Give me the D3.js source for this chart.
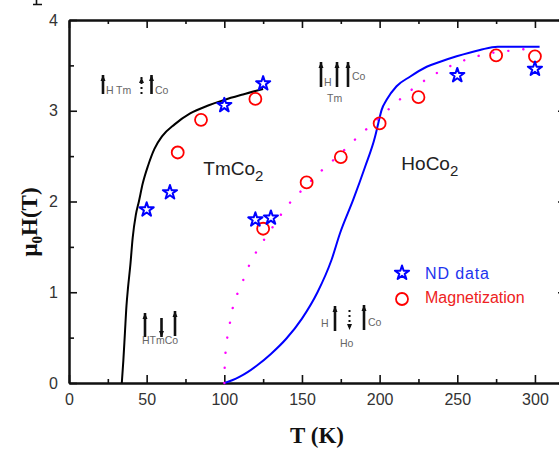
<!DOCTYPE html>
<html>
<head>
<meta charset="utf-8">
<script src="https://cdn.jsdelivr.net/npm/d3@7"></script>
<style>
  html, body { margin: 0; padding: 0; background: #fff; }
  svg { display: block; }
</style>
</head>
<body>
<svg id="chart" width="559" height="452"></svg>
<script>
// Critical field vs temperature for TmCo2 and HoCo2

// TmCo2 calculated boundary (T in K, field in T)
const tmCurveT = [34, 35, 36, 37, 38, 39.5, 41, 43, 45, 47.5, 51, 55, 60, 68, 78, 90, 100, 112, 125];
const tmCurveH = [0, 0.25, 0.55, 0.85, 1.05, 1.3, 1.6, 1.85, 2.0, 2.2, 2.4, 2.58, 2.72, 2.85, 2.97, 3.06, 3.12, 3.18, 3.24];

// HoCo2 calculated boundary
const hoCurveT = [100, 105, 110, 115, 120.8, 130, 140, 150, 160, 169, 174.5, 183, 190.6, 197, 199.1, 201.3, 204.5, 210.9, 219.5, 230.3, 239, 249.6, 264.6, 276, 303];
const hoCurveH = [0, 0.03, 0.07, 0.12, 0.19, 0.32, 0.49, 0.71, 1.0, 1.355, 1.65, 2.02, 2.38, 2.71, 2.86, 3.01, 3.12, 3.27, 3.375, 3.485, 3.54, 3.6, 3.67, 3.706, 3.706];

// HoCo2 dotted guide through magnetization data
const guideT = [100, 100.3, 101.2, 103, 106, 110, 117.6, 123, 132, 140, 148, 162, 175, 184, 195, 206.7, 222, 240.5, 258.6, 270, 288.6, 300];
const guideH = [0, 0.2, 0.4, 0.6, 0.87, 1.04, 1.355, 1.51, 1.74, 1.94, 2.09, 2.33, 2.53, 2.68, 2.85, 3.03, 3.25, 3.45, 3.58, 3.63, 3.67, 3.69];

// Neutron diffraction points
const ndT = [50, 65, 100, 125, 120, 130, 250, 300];
const ndH = [1.91, 2.1, 3.06, 3.3, 1.8, 1.82, 3.39, 3.46];

// Magnetization points
const magT = [70, 85, 120, 125, 153, 175, 200, 225, 275, 300];
const magH = [2.54, 2.9, 3.13, 1.7, 2.21, 2.49, 2.86, 3.15, 3.61, 3.6];

const xMajor = [0, 50, 100, 150, 200, 250, 300];
const xMinor = [25, 75, 125, 175, 225, 275];
const yMajor = [0, 1, 2, 3, 4];
const yMinor = [0.5, 1.5, 2.5, 3.5];

const svg = d3.select("#chart");
const x = d3.scaleLinear().domain([0, 320]).range([69, 566]);
const y = d3.scaleLinear().domain([0, 4]).range([383, 20]);

const sans = "Arial, 'Liberation Sans', sans-serif";
const serif = "'Times New Roman', 'Liberation Serif', serif";

// ---- axes (ticks point inward on all four sides) ----
function styleAxis(g) {
  g.selectAll(".domain").attr("stroke", "#111").attr("stroke-width", 2);
  g.selectAll(".tick line").attr("stroke", "#111").attr("stroke-width", 1.6);
  g.selectAll(".tick text").attr("fill", "#333").style("font-family", sans).style("font-size", "16px");
}

svg.append("g").attr("transform", `translate(0,${y(0)})`)
  .call(d3.axisBottom(x).tickValues(xMajor).tickFormat(d3.format("d")).tickSizeInner(-8).tickSizeOuter(0).tickPadding(11))
  .call(styleAxis);
svg.append("g").attr("transform", `translate(0,${y(0)})`)
  .call(d3.axisBottom(x).tickValues(xMinor).tickFormat("").tickSizeInner(-4).tickSizeOuter(0))
  .call(styleAxis);
svg.append("g").attr("transform", `translate(0,${y(4)})`)
  .call(d3.axisTop(x).tickValues(xMajor).tickFormat("").tickSizeInner(-8).tickSizeOuter(0))
  .call(styleAxis);
svg.append("g").attr("transform", `translate(0,${y(4)})`)
  .call(d3.axisTop(x).tickValues(xMinor).tickFormat("").tickSizeInner(-4).tickSizeOuter(0))
  .call(styleAxis);
svg.append("g").attr("transform", `translate(${x(0)},0)`)
  .call(d3.axisLeft(y).tickValues(yMajor).tickFormat(d3.format("d")).tickSizeInner(-8).tickSizeOuter(0).tickPadding(11))
  .call(styleAxis);
svg.append("g").attr("transform", `translate(${x(0)},0)`)
  .call(d3.axisLeft(y).tickValues(yMinor).tickFormat("").tickSizeInner(-5).tickSizeOuter(0))
  .call(styleAxis);
svg.append("g").attr("transform", `translate(${x(320)},0)`)
  .call(d3.axisRight(y).tickValues(yMajor).tickFormat("").tickSizeInner(-8).tickSizeOuter(0))
  .call(styleAxis);

// ---- axis titles ----
svg.append("text").attr("x", 317).attr("y", 443).attr("text-anchor", "middle")
  .style("font-family", serif).style("font-size", "23px").style("font-weight", "bold")
  .attr("fill", "#111").text("T (K)");

const yt = svg.append("text").attr("transform", "translate(37,222) rotate(-90)")
  .attr("text-anchor", "middle")
  .style("font-family", serif).style("font-size", "23px").style("font-weight", "bold").attr("fill", "#111");
yt.append("tspan").text("\u03BC");
yt.append("tspan").attr("dy", 5).style("font-size", "15px").text("0");
yt.append("tspan").attr("dy", -5).text("H(T)");

// stem-and-foot fragment at the top-left edge
svg.append("path").attr("d", "M36.5,0 V4 M33,4.5 H42").attr("stroke", "#111").attr("stroke-width", 1.6).attr("fill", "none");

// ---- curves ----
const line = d3.line().x(d => x(d[0])).y(d => y(d[1])).curve(d3.curveMonotoneX);

svg.append("path").datum(d3.zip(tmCurveT, tmCurveH))
  .attr("d", line).attr("fill", "none").attr("stroke", "#000").attr("stroke-width", 2);

svg.append("path").datum(d3.zip(hoCurveT, hoCurveH))
  .attr("d", line).attr("fill", "none").attr("stroke", "#0000ff").attr("stroke-width", 2);

svg.append("path").datum(d3.zip(guideT, guideH))
  .attr("d", line).attr("fill", "none").attr("stroke", "#ff00ff").attr("stroke-width", 2.4)
  .attr("stroke-linecap", "round").attr("stroke-dasharray", "0.1,15");

// ---- markers ----
const star = d3.symbol().type(d3.symbolStar).size(62);
function drawStar(g, px, py) {
  g.append("path").attr("d", star).attr("transform", `translate(${px},${py})`)
    .attr("fill", "none").attr("stroke", "#0000ff").attr("stroke-width", 2).attr("stroke-linejoin", "round");
}
function drawCircle(g, px, py) {
  g.append("circle").attr("cx", px).attr("cy", py).attr("r", 6)
    .attr("fill", "none").attr("stroke", "#ff0000").attr("stroke-width", 1.8);
}

const marks = svg.append("g");
d3.zip(magT, magH).forEach(d => drawCircle(marks, x(d[0]), y(d[1])));
d3.zip(ndT, ndH).forEach(d => drawStar(marks, x(d[0]), y(d[1])));

// ---- legend ----
drawStar(svg, 402, 273);
drawCircle(svg, 402, 299);
svg.append("text").attr("x", 425).attr("y", 279).style("font-family", sans).style("font-size", "16px")
  .attr("fill", "#2233ee").attr("textLength", 64).text("ND data");
svg.append("text").attr("x", 425).attr("y", 303).style("font-family", sans).style("font-size", "16px")
  .attr("fill", "#ee2222").text("Magnetization");

// ---- compound labels ----
function compound(px, py, base) {
  const t = svg.append("text").attr("x", px).attr("y", py)
    .style("font-family", sans).style("font-size", "19px").attr("fill", "#222");
  t.append("tspan").text(base);
  t.append("tspan").attr("dy", 6).style("font-size", "15px").text("2");
}
compound(x(86.5), y(2.29), "TmCo");
compound(x(214), y(2.35), "HoCo");

// ---- spin configuration sketches ----
function arrow(g, px, top, bottom, opts = {}) {
  const dashed = opts.dashed || false;
  const down = opts.down || false;
  g.append("line").attr("x1", px).attr("x2", px).attr("y1", top).attr("y2", bottom)
    .attr("stroke", "#111").attr("stroke-width", dashed ? 2 : 2.6)
    .attr("stroke-dasharray", dashed ? "2,3" : null);
  const tip = down ? bottom : top;
  const s = down ? -1 : 1;
  g.append("path")
    .attr("d", `M${px},${tip} L${px - 2.5},${tip + 6 * s} L${px + 2.5},${tip + 6 * s} Z`)
    .attr("fill", "#111");
}
function label(g, px, py, txt) {
  g.append("text").attr("x", px).attr("y", py)
    .style("font-family", sans).style("font-size", "10.5px").attr("fill", "#666").text(txt);
}

// low-field TmCo2 phase
{
  const g = svg.append("g");
  arrow(g, 103, 75, 94);
  label(g, 106, 94, "H");
  label(g, 116, 94, "Tm");
  arrow(g, 141.5, 77, 95, { dashed: true });
  arrow(g, 151.5, 75, 94);
  label(g, 155, 94, "Co");
}
// high-field aligned phase
{
  const g = svg.append("g");
  arrow(g, 321, 62, 87);
  label(g, 324, 86, "H");
  arrow(g, 337, 62, 87);
  arrow(g, 348, 62, 87);
  label(g, 352, 80, "Co");
  label(g, 327, 102, "Tm");
}
// TmCo2 ferrimagnetic phase
{
  const g = svg.append("g");
  arrow(g, 145, 313, 337);
  arrow(g, 161.5, 318, 337, { down: true });
  arrow(g, 175, 311, 336);
  label(g, 142, 344, "HTmCo");
}
// HoCo2 ferrimagnetic phase
{
  const g = svg.append("g");
  label(g, 321, 327, "H");
  arrow(g, 335, 306, 331);
  arrow(g, 349.5, 310, 330, { dashed: true, down: true });
  arrow(g, 364, 305, 330);
  label(g, 368, 326, "Co");
  label(g, 340, 347, "Ho");
}
</script>
</body>
</html>
